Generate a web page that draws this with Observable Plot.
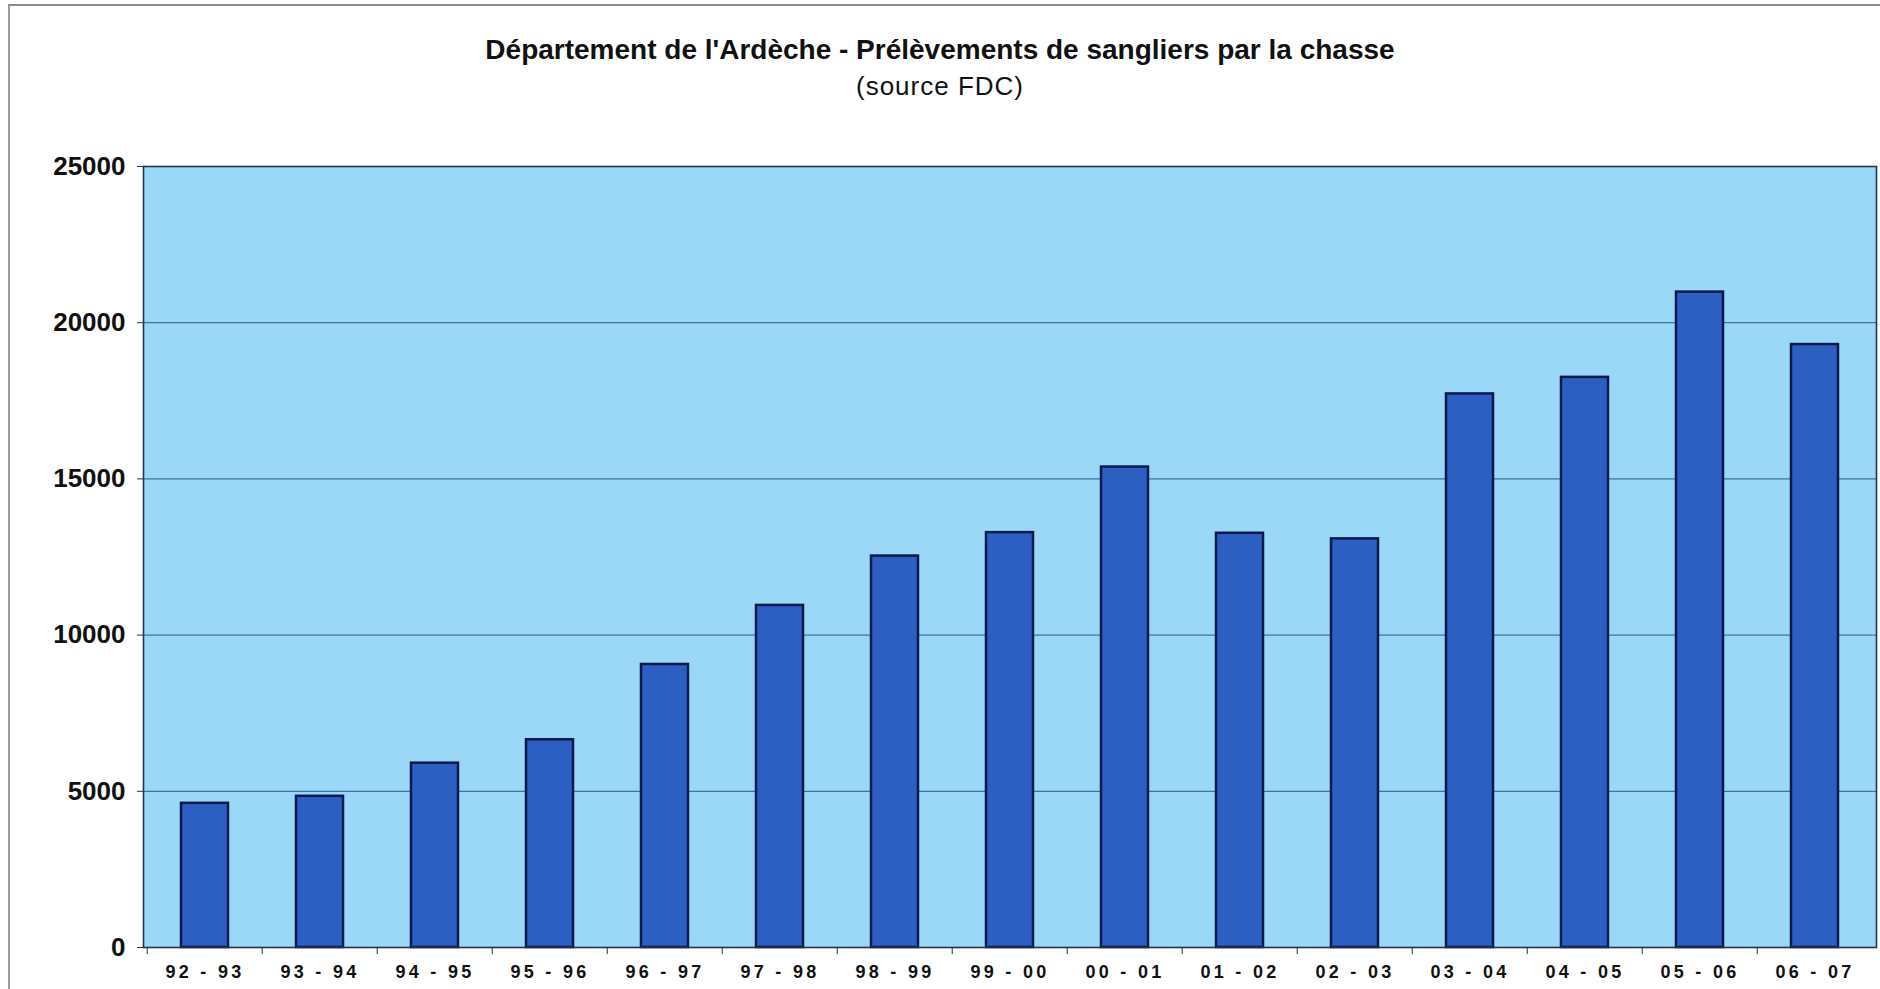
<!DOCTYPE html>
<html>
<head>
<meta charset="utf-8">
<script src="https://cdn.jsdelivr.net/npm/d3@7"></script>
<script src="https://cdn.jsdelivr.net/npm/@observablehq/plot@0.6"></script>
<style>
  html, body { margin: 0; padding: 0; background: #ffffff; width: 1880px; height: 989px; overflow: hidden; }
  body { font-family: "Liberation Sans", Arial, sans-serif; position: relative; }
  #page { position: absolute; left: 8px; top: 4px; width: 1880px; height: 1000px; border-left: 2px solid #9a9aa2; border-top: 2px solid #8c8c8c; }
  #title { position: absolute; left: 0; width: 1880px; top: 34px; line-height: 32px; text-align: center; font-size: 28px; font-weight: bold; color: #111; }
  #subtitle { position: absolute; left: 0; width: 1880px; top: 70px; line-height: 32px; text-align: center; font-size: 26px; color: #111; letter-spacing: 1px; }
  #chart { position: absolute; left: 0; top: 130px; }
</style>
</head>
<body>
<div id="page"></div>
<div id="title">Département de l'Ardèche - Prélèvements de sangliers par la chasse</div>
<div id="subtitle">(source FDC)</div>
<div id="chart"></div>
<script>
const seasons = ["92 - 93","93 - 94","94 - 95","95 - 96","96 - 97","97 - 98","98 - 99","99 - 00","00 - 01","01 - 02","02 - 03","03 - 04","04 - 05","05 - 06","06 - 07"];
const prelevements = [4615, 4840, 5900, 6650, 9060, 10950, 12530, 13280, 15380, 13260, 13080, 17720, 18250, 20980, 19300];
const yTicks = [0, 5000, 10000, 15000, 20000, 25000];

const data = seasons.map((s, i) => ({season: s, value: prelevements[i]}));

const W = 1880, H = 859, ML = 143, MR = 4, MT = 36, MB = 42;
const step = (W - ML - MR) / seasons.length;

const chart = Plot.plot({
  width: W,
  height: H,
  marginLeft: ML,
  marginRight: MR,
  marginTop: MT,
  marginBottom: MB,
  style: {fontFamily: '"Liberation Sans", Arial, sans-serif', color: "#111", background: "transparent"},
  x: {type: "band", domain: seasons, paddingInner: 0.59, paddingOuter: 0.295, label: null},
  y: {domain: [0, 25000], label: null},
  marks: [
    Plot.frame({fill: "#9bd7f6"}),
    Plot.gridY(yTicks, {stroke: "#3c74a6", strokeOpacity: 1, strokeWidth: 1.2}),
    Plot.barY(data, {x: "season", y: "value", fill: "#2d5ec2", stroke: "#0a1a4e", strokeWidth: 2.5}),
    Plot.frame({stroke: "#1f3550", strokeWidth: 1.6}),
    Plot.axisY(yTicks, {tickSize: 6, tickPadding: 12, fontSize: 26, fontWeight: "bold", tickFormat: d => String(d), stroke: "#1f3550"}),
    Plot.axisX(seasons, {tickSize: 7, tickFormat: () => "", dx: -step / 2, stroke: "#1f3550"}),
    Plot.axisX(seasons, {tickSize: 0, tickPadding: 18, fontSize: 18, fontWeight: "bold"})
  ]
});

d3.select(chart).selectAll('g[aria-label="x-axis tick label"] text').attr("letter-spacing", "3.3");
document.getElementById("chart").appendChild(chart);
</script>
</body>
</html>
